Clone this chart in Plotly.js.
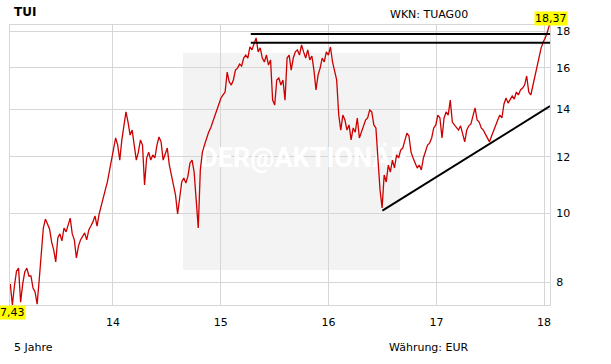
<!DOCTYPE html>
<html><head><meta charset="utf-8">
<script src="https://cdn.plot.ly/plotly-3.0.1.min.js"></script>
<style>html,body{margin:0;padding:0;background:#fff}#chart{width:611px;height:364px}</style>
</head><body><div id="chart"></div>
<script>
// ---- data ----
const startDate = '2013-01-18'; // first weekly close
const prices = [
 7.95,7.43,7.90,8.29,8.37,7.50,7.95,8.27,8.37,8.16,
 8.16,7.85,7.75,7.45,8.06,8.73,9.53,9.81,9.65,9.50,
 9.11,8.88,8.54,9.23,9.35,9.14,9.53,9.41,9.62,9.84,
 9.35,9.17,8.65,8.99,9.17,9.29,9.38,9.17,9.47,9.59,
 9.72,9.91,9.59,9.97,10.27,10.50,10.78,11.06,11.50,11.95,
 12.26,12.75,12.46,11.87,12.67,13.30,13.87,13.42,12.87,13.08,
 12.34,11.87,12.18,12.67,12.46,10.95,11.95,12.18,11.87,12.07,
 11.95,12.46,12.79,12.59,11.87,12.07,12.34,11.68,11.31,11.02,
 10.60,9.97,10.43,11.06,11.20,11.02,11.27,11.76,11.87,11.42,
 10.43,9.53,11.50,12.18,12.46,12.75,12.99,13.17,13.42,13.73,
 13.96,14.23,14.51,14.65,14.79,15.78,15.28,15.13,15.38,15.88,
 15.98,16.19,16.09,16.51,16.67,16.51,17.11,16.95,17.28,17.62,
 16.84,17.06,16.51,16.30,16.67,16.14,16.41,14.41,14.18,15.38,
 15.48,15.13,15.38,14.41,16.51,16.67,15.88,16.51,16.84,16.95,
 16.67,17.22,16.84,16.51,16.95,16.41,16.62,15.88,14.89,15.63,
 15.98,16.51,16.30,16.84,16.67,17.11,16.30,15.88,15.38,13.73,
 13.08,13.73,13.51,13.08,13.30,12.67,13.17,12.99,13.60,12.75,
 12.99,13.30,13.51,13.60,13.96,13.87,13.30,13.17,11.87,10.78,
 10.17,11.31,11.06,11.68,11.42,11.87,11.57,12.07,11.95,12.26,
 12.34,12.67,12.95,12.83,12.18,11.95,11.76,11.57,11.68,11.50,
 11.95,12.18,12.46,12.54,12.75,13.17,13.30,13.73,13.60,12.75,
 13.60,13.87,13.73,14.41,13.42,13.30,13.17,13.08,13.26,12.87,
 12.59,13.08,13.26,13.34,13.73,14.05,13.51,13.42,13.17,13.08,
 12.91,12.75,12.59,12.83,13.08,13.26,13.51,13.73,13.60,14.23,
 14.51,14.27,14.41,14.60,14.46,14.79,14.65,14.89,14.98,15.13,
 15.58,14.79,14.65,15.13,15.58,16.09,16.51,17.06,17.39,17.62,
 17.96,18.37
];
const yTickVals = [8, 10, 12, 14, 16, 18];
const xTickDates = ['2014-01-01', '2015-01-01', '2016-01-01', '2017-01-01', '2018-01-01'];
const xTickLabels = ['14', '15', '16', '17', '18'];
const resistanceDates = ['2015-04-13', '2018-01-21'];
const resistanceUpper = [17.85, 17.85];
const resistanceLower = [17.34, 17.34];
const supportDates = ['2016-07-02', '2018-01-21'];
const supportValues = [10.08, 14.13];
const lastValueLabel = '18,37';
const minValueLabel = '7,43';
const watermarkDate = ['2015-10-10'];
const watermarkValue = [11.87];

// weekly dates
function weeklyDates(start, n) {
  const out = [];
  const d0 = new Date(start + 'T00:00:00Z');
  for (let i = 0; i < n; i++) {
    const d = new Date(d0.getTime() + i * 7 * 86400000);
    out.push(d.toISOString().slice(0, 10));
  }
  return out;
}
const dates = weeklyDates(startDate, prices.length);

const FONT = 'DejaVu Sans, Verdana, sans-serif';
const traces = [
  {x: watermarkDate, y: watermarkValue, mode: 'text', text: ['DER@AKTIONÄR'],
   textfont: {family: 'Roboto, sans-serif', size: 27, color: '#ffffff', weight: 'bold'},
   hoverinfo: 'skip', showlegend: false},
  {x: dates, y: prices, mode: 'lines', line: {color: '#cc0000', width: 1.3}, showlegend: false},
  {x: resistanceDates, y: resistanceUpper, mode: 'lines', line: {color: '#000', width: 2}, showlegend: false},
  {x: resistanceDates, y: resistanceLower, mode: 'lines', line: {color: '#000', width: 2}, showlegend: false},
  {x: supportDates, y: supportValues, mode: 'lines', line: {color: '#000', width: 2}, showlegend: false}
];

const gridC = '#d6d6d6';
const layout = {
  width: 611, height: 364,
  margin: {l: 10, r: 61, t: 25, b: 59},
  paper_bgcolor: '#fff', plot_bgcolor: '#fff',
  font: {family: FONT, size: 11, color: '#000'},
  showlegend: false,
  xaxis: {
    type: 'date', range: ['2013-01-17', '2018-01-21'],
    tickvals: xTickDates, ticktext: xTickLabels,
    showgrid: true, gridcolor: gridC, gridwidth: 1,
    showline: true, linecolor: gridC, mirror: true, ticks: '',
    ticklabelstandoff: 7,
    zeroline: false, tickfont: {family: FONT, size: 11, color: '#000'}
  },
  yaxis: {
    type: 'log', side: 'right',
    range: [Math.log10(7.43), Math.log10(18.37)],
    tickvals: yTickVals, ticktext: yTickVals.map(String),
    showgrid: true, gridcolor: gridC, gridwidth: 1,
    showline: true, linecolor: gridC, mirror: true, ticks: '',
    ticklabelstandoff: 3,
    zeroline: false, tickfont: {family: FONT, size: 11, color: '#000'}
  },
  shapes: [
    {type: 'rect', xref: 'paper', yref: 'paper', x0: 0.3204, x1: 0.7222, y0: 0.125, y1: 0.9,
     fillcolor: '#f3f3f3', line: {width: 0}, layer: 'below'}
  ],
  annotations: [
    {xref: 'paper', yref: 'paper', x: 0.0037, y: 1.045, xanchor: 'left', yanchor: 'middle',
     text: '<b>TUI</b>', showarrow: false, font: {family: FONT, size: 12, color: '#000'}},
    {xref: 'paper', yref: 'paper', x: 0.70, y: 1.039, xanchor: 'left', yanchor: 'middle',
     text: 'WKN: TUAG00', showarrow: false, font: {family: FONT, size: 11, color: '#000'}},
    {xref: 'paper', yref: 'paper', x: 0.0037, y: -0.15, xanchor: 'left', yanchor: 'middle',
     text: '5 Jahre', showarrow: false, font: {family: FONT, size: 11, color: '#000'}},
    {xref: 'paper', yref: 'paper', x: 0.698, y: -0.15, xanchor: 'left', yanchor: 'middle',
     text: 'Währung: EUR', showarrow: false, font: {family: FONT, size: 11, color: '#000'}},
    {xref: 'paper', yref: 'paper', x: 1.001, y: 1.023, xanchor: 'center', yanchor: 'middle',
     text: lastValueLabel, showarrow: false, bgcolor: '#ffff00', borderpad: 0,
     font: {family: FONT, size: 11, color: '#000'}},
    {xref: 'paper', yref: 'paper', x: 0.0046, y: -0.025, xanchor: 'center', yanchor: 'middle',
     text: minValueLabel, showarrow: false, bgcolor: '#ffff00', borderpad: 0,
     font: {family: FONT, size: 11, color: '#000'}}
  ]
};

Plotly.newPlot('chart', traces, layout, {staticPlot: true, displayModeBar: false});
</script>
</body></html>
